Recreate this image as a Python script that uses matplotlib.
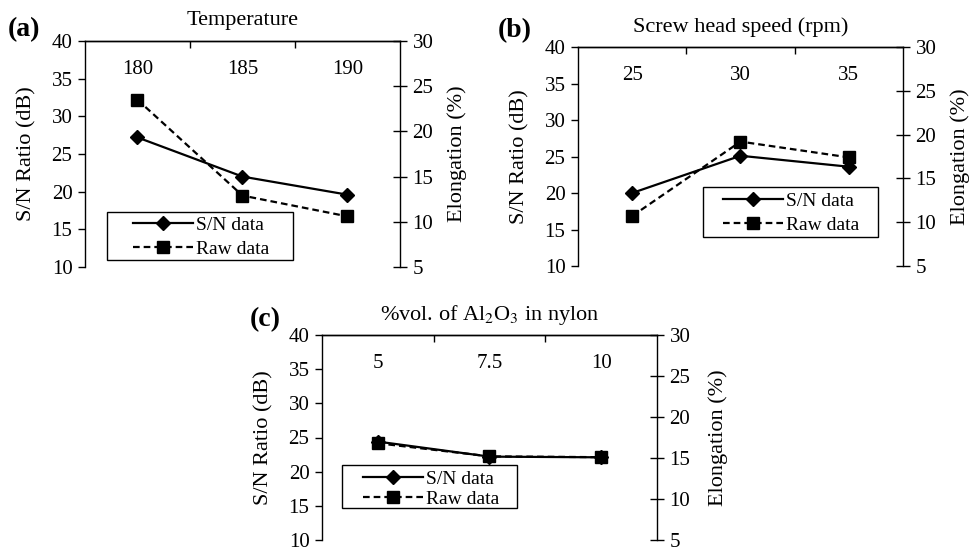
import matplotlib
matplotlib.use("Agg")
import matplotlib.pyplot as plt
from matplotlib.patches import Rectangle

plt.rcParams['font.family'] = ['Liberation Serif', 'DejaVu Serif']
plt.rcParams['mathtext.fontset'] = 'stix'

# ---- data ----
cats_a = ["180", "185", "190"]
sn_a = [27.2, 22.0, 19.6]
raw_a = [23.5, 12.9, 10.6]

cats_b = ["25", "30", "35"]
sn_b = [20.0, 25.1, 23.6]
raw_b = [10.7, 19.2, 17.4]

cats_c = ["5", "7.5", "10"]
sn_c = [24.4, 22.2, 22.1]
raw_c = [16.8, 15.2, 15.1]

titles = ["Temperature", "Screw head speed (rpm)", "%vol. of Al$_2$O$_3$ in nylon"]
panel_labels = ["(a)", "(b)", "(c)"]
left_ticks = [10, 15, 20, 25, 30, 35, 40]
right_ticks = [5, 10, 15, 20, 25, 30]

W, H = 979, 551
fig = plt.figure(figsize=(W / 100, H / 100), dpi=100)

def rect(x0, y0, x1, y1):
    return [x0 / W, 1 - y1 / H, (x1 - x0) / W, (y1 - y0) / H]

panels = [
    dict(r=(85, 41, 400, 267), cats=cats_a, sn=sn_a, raw=raw_a,
         box=(107, 212, 293, 260), hstart=(133, 216), ls=0.36, lab=(8, 30), title_y=21,
         rlab_x=457, llab_x=27),
    dict(r=(578, 47, 903, 266), cats=cats_b, sn=sn_b, raw=raw_b,
         box=(703, 187, 878, 237), hstart=(723, 192), ls=0.36, lab=(498, 31), title_y=27,
         rlab_x=960, llab_x=520),
    dict(r=(322, 335, 657, 540), cats=cats_c, sn=sn_c, raw=raw_c,
         box=(342, 465, 517, 508), hstart=(363, 470), ls=0.12, lab=(250, 320), title_y=315,
         rlab_x=718, llab_x=264),
]

FS = 15
for i, p in enumerate(panels):
    x0, y0, x1, y1 = p['r']
    ax = fig.add_axes(rect(x0, y0, x1, y1))
    ax2 = ax.twinx()
    n = len(p['cats'])
    xs = [k + 0.5 for k in range(n)]
    ax.set_xlim(0, n)
    ax.set_ylim(10, 40)
    ax2.set_ylim(5, 30)

    ax.spines['bottom'].set_visible(False)
    ax2.spines['bottom'].set_visible(False)
    ax.spines['right'].set_visible(False)
    ax2.spines['left'].set_visible(False)
    for a in (ax, ax2):
        for s in a.spines.values():
            s.set_linewidth(1.0)

    ax.set_yticks(left_ticks)
    ax.tick_params(axis='y', direction='out', length=5, width=1, labelsize=FS, pad=4)
    ax2.set_yticks(right_ticks)
    ax2.tick_params(axis='y', direction='inout', length=10, width=1, labelsize=FS, pad=4)

    # top category axis
    ax.set_xticks(range(1, n))
    ax.set_xticklabels([])
    ax.set_xticks(xs, minor=True)
    ax.set_xticklabels(p['cats'], minor=True)
    ax.tick_params(axis='x', which='major', direction='in', length=5, width=1,
                   top=True, bottom=False, labeltop=False, labelbottom=False)
    ax.tick_params(axis='x', which='minor', length=0, top=False, bottom=False,
                   labeltop=True, labelbottom=False, labelsize=FS, pad=-27)

    l1, = ax.plot(xs, p['sn'], color='black', lw=1.6, marker='D', ms=7,
                  label='S/N data', zorder=3)
    l2, = ax2.plot(xs, p['raw'], color='black', lw=1.6, ls=(0, (3, 1.8)), marker='s',
                   ms=9, label='Raw data', zorder=3)

    bx0, by0, bx1, by1 = p['box']
    fig.add_artist(Rectangle((bx0 / W, 1 - by1 / H), (bx1 - bx0) / W, (by1 - by0) / H,
                             transform=fig.transFigure, facecolor='white',
                             edgecolor='black', lw=1.0, zorder=4))
    hx, hy = p['hstart']
    fig.legend(handles=[l1, l2], loc='upper left',
               bbox_to_anchor=(hx / W, 1 - hy / H), bbox_transform=fig.transFigure,
               borderaxespad=0, frameon=False, fontsize=14, borderpad=0,
               handlelength=3.1, handletextpad=0.15, labelspacing=p['ls']).set_zorder(5)

    fig.text((x0 + x1) / 2 / W, 1 - p['title_y'] / H, titles[i], ha='center', va='center',
             fontsize=16)
    fig.text(p['lab'][0] / W, 1 - p['lab'][1] / H, panel_labels[i], ha='left', va='center',
             fontsize=20, fontweight='bold')
    fig.text(p['llab_x'] / W, 1 - (y0 + y1) / 2 / H, "S/N Ratio (dB)", rotation=90,
             ha='center', va='center', fontsize=16)
    fig.text(p['rlab_x'] / W, 1 - (y0 + y1) / 2 / H, "Elongation (%)", rotation=90,
             ha='center', va='center', fontsize=16)

fig.savefig("out.png", dpi=100)
